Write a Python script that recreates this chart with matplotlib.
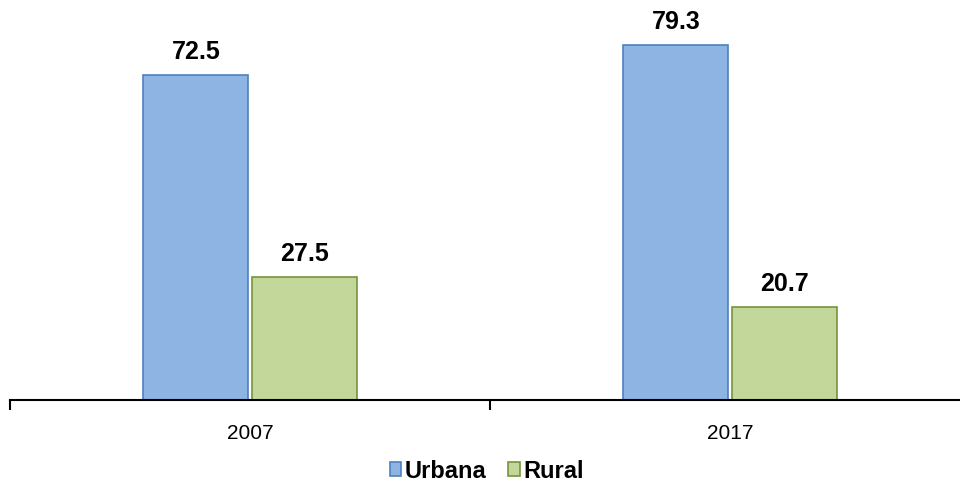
import matplotlib.pyplot as plt
import numpy as np

# datos
anios = ['2007', '2017']
urbana = [72.5, 79.3]
rural = [27.5, 20.7]

plt.rcParams['font.family'] = ['Liberation Sans', 'DejaVu Sans']

fig = plt.figure(figsize=(9.6, 4.84), dpi=100)
ax = fig.add_axes([10 / 960, 84 / 484, 960 / 960, 400 / 484])

x = np.arange(len(anios))
ancho = 0.219
b1 = ax.bar(x - 0.113, urbana, ancho, color='#8EB4E3', edgecolor='#4F81BD',
            linewidth=1.2, label='Urbana')
b2 = ax.bar(x + 0.113, rural, ancho, color='#C4D79B', edgecolor='#77933C',
            linewidth=1.2, label='Rural')

for rects in (b1, b2):
    for r in rects:
        h = r.get_height()
        ax.annotate(f'{h:.1f}', xy=(r.get_x() + r.get_width() / 2, h),
                    xytext=(0, 8), textcoords='offset points',
                    ha='center', va='bottom', fontsize=18, fontweight='bold')

ax.set_xlim(-0.5, 1.5)
ax.set_ylim(0, 89.3)
ax.set_xticks([-0.5, 0.5, 1.5], minor=False)
ax.set_xticklabels(['', '', ''])
ax.set_xticks(x, minor=True)
ax.set_xticklabels(anios, minor=True, fontsize=15)
ax.tick_params(axis='x', which='major', length=7, width=1.5, color='black')
ax.tick_params(axis='x', which='minor', length=0, pad=17)
ax.set_yticks([])
for s in ['top', 'right', 'left']:
    ax.spines[s].set_visible(False)
ax.spines['bottom'].set_linewidth(1.5)

fig.legend(handles=[b1, b2], loc='center', bbox_to_anchor=(0.507, 13 / 484),
           ncol=2, frameon=False, prop={'size': 17, 'weight': 'bold'},
           handlelength=0.5, handleheight=0.5, handletextpad=0.15,
           columnspacing=0.9)

fig.savefig('out.png', dpi=100)
